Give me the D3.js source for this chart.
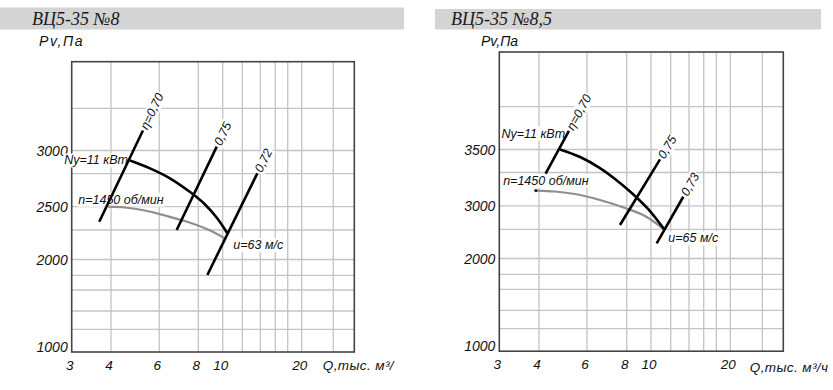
<!DOCTYPE html>
<html>
<head>
<meta charset="utf-8">
<script src="https://cdn.jsdelivr.net/npm/d3@7"></script>
<style>
  body { margin: 0; background: #fff; }
  svg { display: block; }
  .gost { font-family: "Liberation Sans", Arial, sans-serif; font-style: italic; fill: #111; }
</style>
</head>
<body>
<div id="main-frame"></div>
<script>
// ---- data ----
const titles = ["ВЦ5-35 №8", "ВЦ5-35 №8,5"];
const qTicks = [3, 4, 6, 8, 10, 20];
const qGrid = [3, 4, 6, 8, 10, 12, 14, 16, 18, 20, 25, 30];

const pGrid8 = [1000, 1200, 1400, 1600, 1800, 2000, 2250, 2500, 2750, 3000, 4000, 5000];
const pTicks8 = [1000, 2000, 2500, 3000];
const power8 = [[4.69, 2890], [5.55, 2806], [6.49, 2714], [7.53, 2608], [8.51, 2516], [9.49, 2375], [10.44, 2221]];
const speed8 = [[3.92, 2500], [4.5, 2491], [5.32, 2457], [6.26, 2402], [7.41, 2333], [8.74, 2255], [10.22, 2175]];
const eff8 = [
  { label: "η=0,70", pts: [[3.67, 2336], [5.23, 3438]] },
  { label: "0,75", pts: [[6.82, 2250], [9.47, 3079]] },
  { label: "0,72", pts: [[8.69, 1804], [13.65, 2754]] },
];
const notes8 = ["Ny=11 кВт", "n=1450 об/мин", "u=63 м/с"];

const pGrid85 = [1000, 1200, 1400, 1600, 1800, 2000, 2500, 3000, 3250, 3500, 4000, 5000];
const pTicks85 = [1000, 2000, 3000, 3500];
const power85 = [[4.78, 3500], [5.66, 3416], [6.59, 3297], [7.35, 3200], [8.25, 3105], [9.73, 2927], [11.28, 2503]];
const speed85 = [[3.91, 3112], [4.58, 3105], [5.42, 3086], [6.59, 3042], [7.9, 2949], [9.46, 2772], [11.17, 2516]];
const eff85 = [
  { label: "η=0,70", pts: [[4.23, 3242], [5.15, 3708]] },
  { label: "0,75", pts: [[7.62, 2585], [10.87, 3391]] },
  { label: "0,73", pts: [[10.54, 2246], [13.34, 3066]] },
];
const notes85 = ["Ny=11 кВт", "n=1450 об/мин", "u=65 м/с"];

// ---- layout (pixel calibration of the hand-drawn log grids) ----
const panels = [
  {
    title: titles[0], pGrid: pGrid8, pTicks: pTicks8, power: power8, speed: speed8, eff: eff8, notes: notes8,
    qLabel: "Q,тыс. м³/",
    xPix: [71.7, 111, 159.3, 198.3, 222.7, 242.3, 260.3, 275.3, 287.7, 301.7, 333.3, 354.3],
    yPix: [352, 329.3, 311, 290, 275.3, 259.5, 230, 206.7, 173.7, 150.5, 108.3, 61.7],
    bar: [0, 7.5, 404, 22], titleX: 32, pvX: 39, pvSpacing: 1.6,
    nyOff: [-2, 0, "end"], nOff: [-30, -7], uOff: [6, 11.7], qLabelDx: -31.5, qLabelDy: 13, dot: false,
  },
  {
    title: titles[1], pGrid: pGrid85, pTicks: pTicks85, power: power85, speed: speed85, eff: eff85, notes: notes85,
    qLabel: "Q,тыс. м³/ч",
    xPix: [499.3, 539, 587, 626.7, 651, 670.7, 689, 703.7, 716.3, 730.3, 762.3, 783.3],
    yPix: [351.2, 328.7, 310.3, 289.3, 274.3, 258.5, 229.3, 205.8, 172.5, 149.5, 106.7, 52],
    bar: [435, 9, 386, 20.5], titleX: 451, pvX: 481, pvSpacing: 0,
    nyOff: [5, -16, "end"], nOff: [-32.7, -9.5], uOff: [4.3, 9.3], qLabelDx: -33.5, qLabelDy: 16, dot: true,
  },
];

const svg = d3.select("#main-frame").append("svg").attr("width", 833).attr("height", 390);

panels.forEach((p) => {
  const x = d3.scaleLog().domain(qGrid).range(p.xPix);
  const y = d3.scaleLog().domain(p.pGrid).range(p.yPix);
  const [x0, x1] = [x(qGrid[0]), x(qGrid[qGrid.length - 1])];
  const [y0, y1] = [y(p.pGrid[0]), y(p.pGrid[p.pGrid.length - 1])];

  const g = svg.append("g");

  // title bar
  g.append("rect").attr("x", p.bar[0]).attr("y", p.bar[1]).attr("width", p.bar[2]).attr("height", p.bar[3]).attr("fill", "#d4d4d4");
  g.append("text").attr("x", p.titleX).attr("y", 24.5)
    .style("font-family", "'Liberation Serif', 'DejaVu Serif', serif").style("font-style", "italic")
    .style("font-size", "18px").attr("fill", "#1a1a1a").text(p.title);

  g.append("text").attr("x", p.pvX).attr("y", 46)
    .style("font-family", "'Liberation Sans', Arial, sans-serif").style("font-style", "italic")
    .style("font-size", "14px").style("letter-spacing", p.pvSpacing + "px").attr("fill", "#111").text("Pv,Па");

  // grid
  const grid = g.append("g").attr("stroke", "#c4c4c4").attr("stroke-width", 1.3);
  grid.selectAll(".v").data(qGrid.slice(1, -1)).enter().append("line")
    .attr("x1", (d) => x(d)).attr("x2", (d) => x(d)).attr("y1", y0).attr("y2", y1);
  grid.selectAll(".h").data(p.pGrid.slice(1, -1)).enter().append("line")
    .attr("y1", (d) => y(d)).attr("y2", (d) => y(d)).attr("x1", x0).attr("x2", x1);
  g.append("rect").attr("x", x0).attr("y", y1).attr("width", x1 - x0).attr("height", y0 - y1)
    .attr("fill", "none").attr("stroke", "#444").attr("stroke-width", 1.6);

  // tick labels
  g.selectAll(".yt").data(p.pTicks).enter().append("text").attr("class", "gost")
    .attr("x", x0 - 4).attr("y", (d) => Math.min(y(d) + 5, y0)).attr("text-anchor", "end")
    .style("font-size", "14px").text((d) => d);
  g.selectAll(".xt").data(qTicks).enter().append("text").attr("class", "gost")
    .attr("x", (d) => x(d) - 2).attr("y", y0 + 18).attr("text-anchor", "middle")
    .style("font-size", "13.5px").text((d) => d);
  g.append("text").attr("class", "gost").attr("x", x1 + p.qLabelDx).attr("y", y0 + p.qLabelDy + 5)
    .style("font-size", "13.5px").style("letter-spacing", "0.4px").text(p.qLabel);

  const bgLayer = g.append("g");
  const lineLayer = g.append("g");
  const textLayer = g.append("g");

  function label(txt, px, py, anchor, rot) {
    const t = textLayer.append("g").attr("transform", `translate(${px},${py}) rotate(${rot || 0})`);
    const el = t.append("text").attr("class", "gost").attr("text-anchor", anchor || "start")
      .attr("dominant-baseline", "central").style("font-size", "12.5px").text(txt);
    const b = el.node().getBBox();
    bgLayer.append("g").attr("transform", `translate(${px},${py}) rotate(${rot || 0})`)
      .append("rect").attr("x", b.x - 1).attr("y", b.y).attr("width", b.width + 2).attr("height", b.height).attr("fill", "#fff");
  }

  const line = d3.line().x((d) => x(d[0])).y((d) => y(d[1])).curve(d3.curveCatmullRom);

  lineLayer.append("path").datum(p.speed).attr("d", line).attr("fill", "none")
    .attr("stroke", "#8e8e8e").attr("stroke-width", 2.2);
  if (p.dot) {
    lineLayer.append("circle").attr("cx", x(p.speed[0][0])).attr("cy", y(p.speed[0][1])).attr("r", 1.6).attr("fill", "#222");
  }
  lineLayer.append("path").datum(p.power).attr("d", line).attr("fill", "none")
    .attr("stroke", "#000").attr("stroke-width", 2.6);

  p.eff.forEach((e) => {
    const [a, b] = e.pts;
    const ax = x(a[0]), ay = y(a[1]), bx = x(b[0]), by = y(b[1]);
    lineLayer.append("line").attr("x1", ax).attr("y1", ay).attr("x2", bx).attr("y2", by)
      .attr("stroke", "#000").attr("stroke-width", 2.6);
    const ang = Math.atan2(by - ay, bx - ax);
    label(e.label, bx + 2 * Math.cos(ang), by + 2 * Math.sin(ang), "start", (ang * 180) / Math.PI);
  });

  const s0 = p.power[0], s1 = p.power[p.power.length - 1], g0 = p.speed[0];
  label(p.notes[0], x(s0[0]) + p.nyOff[0], y(s0[1]) + p.nyOff[1], p.nyOff[2]);
  label(p.notes[1], x(g0[0]) + p.nOff[0], y(g0[1]) + p.nOff[1], "start");
  label(p.notes[2], x(s1[0]) + p.uOff[0], y(s1[1]) + p.uOff[1], "start");
});
</script>
</body>
</html>
